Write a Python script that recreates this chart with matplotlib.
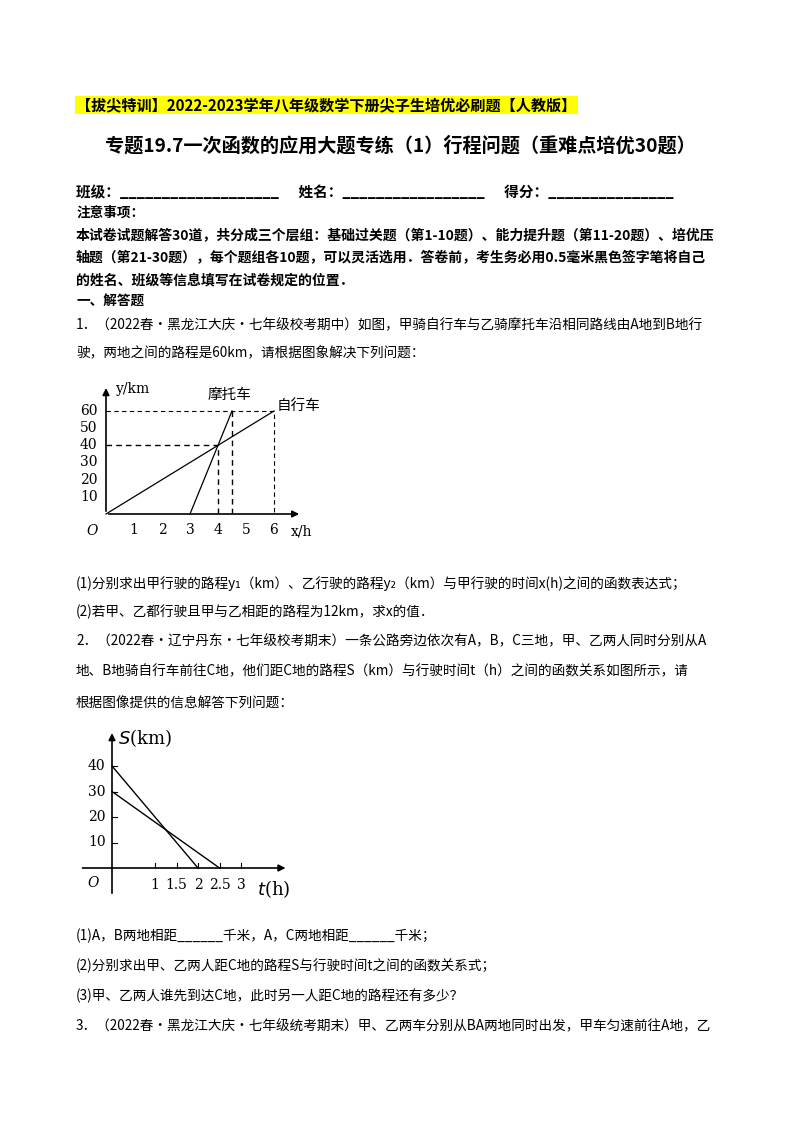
import matplotlib
matplotlib.use("Agg")
import matplotlib.pyplot as plt

plt.rcParams['font.family'] = ['Noto Sans CJK SC', 'DejaVu Sans']

# chart 1 data
bike_x = [0, 6]; bike_y = [0, 60]
moto_x = [3, 4.5]; moto_y = [0, 60]
c1_xticks = [1, 2, 3, 4, 5, 6]
c1_yticks = [10, 20, 30, 40, 50, 60]
# chart 2 data
jia_t = [0, 2]; jia_s = [40, 0]
yi_t = [0, 2.5]; yi_s = [30, 0]
c2_xticks = [1, 1.5, 2, 2.5, 3]
c2_xlabels = ['1', '1.5', '2', '2.5', '3']
c2_yticks = [10, 20, 30, 40]

W, H = 800, 1132
fig = plt.figure(figsize=(8, 11.32), dpi=100)

def T(x, y, s, size=9.8, bold=False, ha='left', **kw):
    fig.text(x / W, 1 - y / H, s, fontsize=size, fontweight='bold' if bold else 'normal',
             ha=ha, va='center', **kw)

T(76, 105, "【拔尖特训】2022-2023学年八年级数学下册尖子生培优必刷题【人教版】", 10.9, True,
  bbox=dict(facecolor='#ffff00', edgecolor='none', pad=1))
T(400, 146, "专题19.7一次函数的应用大题专练（1）行程问题（重难点培优30题）", 13.8, True, ha='center')
T(76, 192, "班级：___________________      姓名：_________________      得分：_______________", 10.5, True)
T(76, 213, "注意事项：", 9.8, True)
T(76, 236, "本试卷试题解答30道，共分成三个层组：基础过关题（第1-10题）、能力提升题（第11-20题）、培优压", 10, True)
T(76, 258, "轴题（第21-30题），每个题组各10题，可以灵活选用．答卷前，考生务必用0.5毫米黑色签字笔将自己", 10, True)
T(76, 280, "的姓名、班级等信息填写在试卷规定的位置．", 10, True)
T(76, 301, "一、解答题", 9.8, True)
T(76, 325, "1．（2022春·黑龙江大庆·七年级校考期中）如图，甲骑自行车与乙骑摩托车沿相同路线由A地到B地行")
T(76, 353, "驶，两地之间的路程是60km，请根据图象解决下列问题：")
T(76, 584, "(1)分别求出甲行驶的路程y₁（km）、乙行驶的路程y₂（km）与甲行驶的时间x(h)之间的函数表达式；")
T(76, 612, "(2)若甲、乙都行驶且甲与乙相距的路程为12km，求x的值．")
T(76, 641, "2．（2022春·辽宁丹东·七年级校考期末）一条公路旁边依次有A，B，C三地，甲、乙两人同时分别从A")
T(76, 671, "地、B地骑自行车前往C地，他们距C地的路程S（km）与行驶时间t（h）之间的函数关系如图所示，请")
T(76, 704, "根据图像提供的信息解答下列问题：")
T(76, 936, "(1)A，B两地相距______千米，A，C两地相距______千米；")
T(76, 966, "(2)分别求出甲、乙两人距C地的路程S与行驶时间t之间的函数关系式；")
T(76, 996, "(3)甲、乙两人谁先到达C地，此时另一人距C地的路程还有多少？")
T(76, 1026, "3．（2022春·黑龙江大庆·七年级统考期末）甲、乙两车分别从BA两地同时出发，甲车匀速前往A地，乙")

def make_ax(px0, px1, py_top, py_bot, ox, oy, sx, sy):
    ax = fig.add_axes([px0 / W, 1 - py_bot / H, (px1 - px0) / W, (py_bot - py_top) / H])
    ax.set_xlim((px0 - ox) / sx, (px1 - ox) / sx)
    ax.set_ylim((oy - py_bot) / sy, (oy - py_top) / sy)
    ax.axis('off')
    return ax

serif = ['DejaVu Serif']
# chart 1: origin (106,514), 28 px/h, 103/60 px/km
ax1 = make_ax(80, 340, 375, 545, 106, 514, 28, 103 / 60)
ax1.annotate('', xy=(7.0, 0), xytext=(0, 0), arrowprops=dict(arrowstyle='-|>', color='k', lw=1.2))
ax1.annotate('', xy=(0, 75), xytext=(0, 0), arrowprops=dict(arrowstyle='-|>', color='k', lw=1.2))
ax1.plot(bike_x, bike_y, color='k', lw=0.9)
ax1.plot(moto_x, moto_y, color='k', lw=0.9)
ax1.plot([0, 6, 6], [60, 60, 0], 'k--', lw=0.8, dashes=(4, 3))
ax1.plot([0, 4, 4], [40, 40, 0], 'k--', lw=1.0, dashes=(4, 3))
ax1.plot([4.5, 4.5], [60, 0], 'k--', lw=1.0, dashes=(4, 3))
for v in c1_xticks:
    ax1.text(v, -5, str(v), ha='center', va='top', fontsize=10, family=serif)
for v in c1_yticks:
    ax1.text(-0.3, v, str(v), ha='right', va='center', fontsize=10, family=serif)
ax1.text(-0.5, -6, 'O', ha='center', va='top', fontsize=10, style='italic', family=serif)
ax1.text(7.0, -6, 'x/h', ha='center', va='top', fontsize=10, family=serif)
ax1.text(0.35, 73, 'y/km', ha='left', va='center', fontsize=10, family=serif)
ax1.text(4.4, 65, '摩托车', ha='center', va='bottom', fontsize=10.5)
ax1.text(6.1, 63, '自行车', ha='left', va='center', fontsize=10.5)

# chart 2: origin (112,868), 43 px/h, 2.55 px/km
ax2 = make_ax(75, 310, 725, 905, 112, 868, 43, 2.55)
ax2.annotate('', xy=(4.1, 0), xytext=(-0.75, 0), arrowprops=dict(arrowstyle='-|>', color='k', lw=1.2))
ax2.annotate('', xy=(0, 54), xytext=(0, -11), arrowprops=dict(arrowstyle='-|>', color='k', lw=1.2))
ax2.plot(jia_t, jia_s, color='k', lw=1.0)
ax2.plot(yi_t, yi_s, color='k', lw=1.0)
for v, l in zip(c2_xticks, c2_xlabels):
    ax2.plot([v, v], [0, 1.8], color='k', lw=0.8)
    ax2.text(v, -4, l, ha='center', va='top', fontsize=10, family=serif)
for v in c2_yticks:
    ax2.plot([0, 0.12], [v, v], color='k', lw=0.8)
    ax2.text(-0.15, v, str(v), ha='right', va='center', fontsize=10, family=serif)
ax2.text(-0.45, -3, 'O', ha='center', va='top', fontsize=10, style='italic', family=serif)
ax2.text(3.75, -4, '$t$(h)', ha='center', va='top', fontsize=13, family=serif)
ax2.text(0.15, 51, '$S$(km)', ha='left', va='center', fontsize=13, family=serif)

fig.savefig('out.png', dpi=100)
